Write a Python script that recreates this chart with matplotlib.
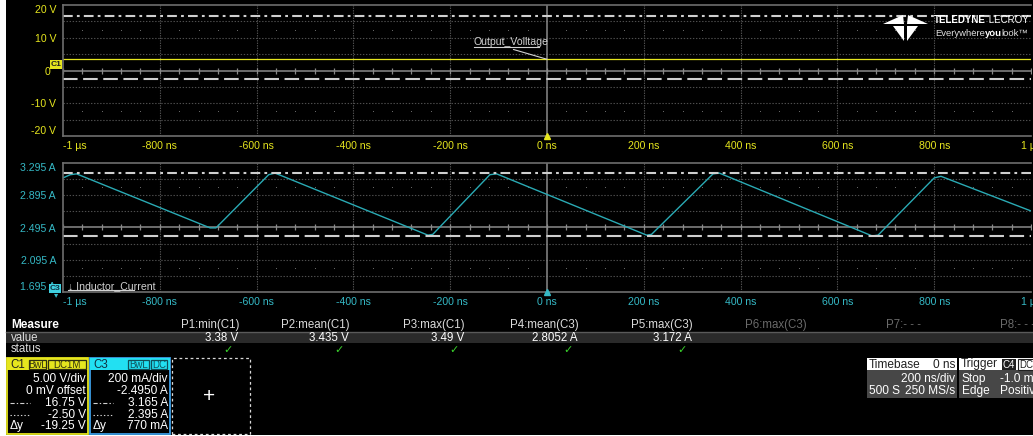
import numpy as np
import matplotlib.pyplot as plt
from matplotlib.patches import Rectangle, Polygon
from matplotlib.lines import Line2D

plt.rcParams['font.family'] = ['Liberation Sans', 'DejaVu Sans']
plt.rcParams['lines.scale_dashes'] = False

# 시간축 (ns)
time_ticks = [-1000, -800, -600, -400, -200, 0, 200, 400, 600, 800, 1000]
time_labels = ['-1 µs', '-800 ns', '-600 ns', '-400 ns', '-200 ns', '0 ns',
               '200 ns', '400 ns', '600 ns', '800 ns', '1 µs']

# C1 출력 전압 (V)
volt_ticks = [20, 10, 0, -10, -20]
volt_labels = ['20 V', '10 V', '', '-10 V', '-20 V']
volt_t = [-1000, 1000]
volt_v = [3.435, 3.435]
volt_cursors = [16.75, -2.50]

# C3 인덕터 전류 (A)
amp_ticks = [3.295, 2.895, 2.495, 2.095, 1.695]
amp_labels = ['3.295 A', '2.895 A', '2.495 A', '2.095 A', '1.695 A']
cur_t = [-1000, -985, -972, -696, -684, -575, -562, -246, -236, -118, -104,
         206, 216, 343, 356, 672, 684, 800, 814, 1000]
cur_a = [3.11, 3.15, 3.16, 2.49, 2.49, 3.15, 3.17, 2.40, 2.41, 3.15, 3.16,
         2.40, 2.41, 3.16, 3.17, 2.39, 2.40, 3.11, 3.13, 2.70]
amp_cursors = [3.165, 2.395]

# 측정 테이블
meas_names = ['P1:min(C1)', 'P2:mean(C1)', 'P3:max(C1)', 'P4:mean(C3)',
              'P5:max(C3)', 'P6:max(C3)', 'P7:- - -', 'P8:- - -']
meas_values = ['3.38 V', '3.435 V', '3.49 V', '2.8052 A', '3.172 A', '', '', '']
meas_ok = [True, True, True, True, True, False, False, False]

c1_rows = ['5.00 V/div', '0 mV offset', '16.75 V', '-2.50 V', '-19.25 V']
c3_rows = ['200 mA/div', '-2.4950 A', '3.165 A', '2.395 A', '770 mA']

YEL = '#e6e61e'
CYN = '#35b9c6'
TRACE_C = '#2aaab4'
GRID = '#4e4e4e'
CUR_C = '#cfcfcf'
DASHDOT = (0, (7, 3, 2, 3))
DASHED = (0, (10.5, 4))

W, H = 1033, 436
fig = plt.figure(figsize=(W / 100, H / 100), dpi=100, facecolor='black')


def fx(x):
    return x / W


def fy(y):
    return 1 - y / H


def T(x, y, s, **kw):
    kw.setdefault('va', 'center')
    kw.setdefault('fontsize', 8.3)
    kw.setdefault('color', 'white')
    return fig.text(fx(x), fy(y), s, **kw)


def box(x1, y1, x2, y2, **kw):
    r = Rectangle((fx(x1), fy(y2)), (x2 - x1) / W, (y2 - y1) / H,
                  transform=fig.transFigure, **kw)
    fig.add_artist(r)
    return r


def hline(x1, x2, y, **kw):
    fig.add_artist(Line2D([fx(x1), fx(x2)], [fy(y), fy(y)],
                          transform=fig.transFigure, **kw))


def chain(x, y, parts):
    # 글자 폭을 재서 이어 붙이기
    r = fig.canvas.get_renderer()
    for s, kw in parts:
        t = T(x, y, s, **kw)
        x += t.get_window_extent(r).width


def scope_axes(rect, ylo, yhi, color):
    ax = fig.add_axes(rect)
    ax.set_facecolor('black')
    ax.set_xlim(-1000, 1000)
    ax.set_ylim(ylo, yhi)
    div = (yhi - ylo) / 8
    mid = (yhi + ylo) / 2
    for k in range(1, 8):
        if k != 4:
            ax.axhline(ylo + k * div, color=GRID, lw=0.8, ls=(0, (1, 1.2)))
    for t in time_ticks[1:-1]:
        if t != 0:
            ax.axvline(t, color=GRID, lw=0.8, ls=(0, (1, 0.8)))
    ax.axhline(mid, color='#8a8a8a', lw=1.1)
    ax.axvline(0, color='#8a8a8a', lw=1.1)
    minor = np.arange(-1000, 1001, 40)
    ax.plot(minor, np.full(len(minor), mid), ls='none', marker='|',
            ms=4, mew=0.9, color='#8a8a8a')
    dots = [t for t in minor if t % 200 != 0]
    for off in (2.5, -2.5):
        ax.plot(dots, np.full(len(dots), mid + off * div), ls='none',
                marker='s', ms=0.7, mew=0, color='#666666')
    for s in ax.spines.values():
        s.set_color('#6e6e6e')
        s.set_linewidth(1.2)
    ax.spines['right'].set_visible(False)
    ax.set_xticks(time_ticks, time_labels)
    ax.tick_params(length=0, labelsize=7.6, colors=color, pad=3.5)
    xl = ax.get_xticklabels()
    xl[0].set_ha('left')
    ax.plot([0], [ylo], ls='none', marker='^', ms=5, color=color, clip_on=False,
            zorder=5)
    return ax, mid


# 위쪽: 출력 전압
ax1, m1 = scope_axes([fx(63), fy(136), 968 / W, 131 / H], -20, 20, YEL)
ax1.set_yticks(volt_ticks, volt_labels)
ax1.tick_params(axis='y', pad=5)
yl = ax1.get_yticklabels()
yl[0].set_va('top')
yl[-1].set_va('bottom')
ax1.plot(volt_t, volt_v, color=YEL, lw=0.9)
ax1.axhline(volt_cursors[0], color=CUR_C, lw=1.5, ls=DASHDOT)
ax1.axhline(volt_cursors[1], color=CUR_C, lw=1.5, ls=DASHED)
ax1.annotate('Output_Volltage', xy=(0, volt_v[0]), xytext=(-151, 8.8),
             color='#d2d2d2', fontsize=7.6, va='center', ha='left',
             arrowprops=dict(arrowstyle='-', color='#d2d2d2', lw=0.8,
                             shrinkA=0, shrinkB=0, relpos=(0.4, 0)))
ax1.plot([-151, -17], [7.3, 7.3], color='#d2d2d2', lw=0.8)
T(50, 72, '0', color=YEL, fontsize=7.6, ha='right')
T(56, 65, 'C1', color='#202020', fontsize=6, ha='center', fontweight='bold',
  bbox=dict(boxstyle='square,pad=0.12', fc=YEL, ec='none'))

# 아래쪽: 인덕터 전류
ax2, m2 = scope_axes([fx(63), fy(292), 968 / W, 129 / H], 1.695, 3.295, CYN)
ax2.set_yticks(amp_ticks, amp_labels)
ax2.tick_params(axis='y', pad=5)
yl = ax2.get_yticklabels()
yl[0].set_va('top')
yl[-1].set_va('bottom')
ax2.plot(cur_t, cur_a, color=TRACE_C, lw=1.0)
ax2.axhline(amp_cursors[0], color=CUR_C, lw=1.5, ls=DASHDOT)
ax2.axhline(amp_cursors[1], color=CUR_C, lw=1.5, ls=DASHED)
ax2.text(-990, 1.769, '↓ Inductor_Current', color='#d2d2d2', fontsize=7.6,
         va='center', ha='left')
ax2.plot([-990, -853], [1.72, 1.72], color='#d2d2d2', lw=0.8)
T(55, 288, 'C3', color='#103040', fontsize=6, ha='center', fontweight='bold',
  bbox=dict(boxstyle='square,pad=0.12', fc='#3fd0e0', ec='none'))
T(56, 296, '▾', color=CYN, fontsize=6, ha='center')

# 로고
for pts in ([(883, 24), (903, 15), (904, 24)],
            [(928, 24), (908, 15), (907, 24)],
            [(893, 26), (904, 26), (904, 41)],
            [(918, 26), (907, 26), (907, 41)]):
    fig.add_artist(Polygon([(fx(x), fy(y)) for x, y in pts], closed=True,
                           transform=fig.transFigure, fc='white', ec='none'))
chain(934, 20, [('TELEDYNE', dict(fontsize=7.0, fontweight='bold')),
                (' LECROY', dict(fontsize=7.0))])
chain(935, 33, [('Everywhere', dict(fontsize=6.8, color='#e0e0e0')),
                ('you', dict(fontsize=6.8, fontweight='bold')),
                ('look™', dict(fontsize=6.8, color='#e0e0e0'))])

# 측정 테이블
right_edges = [239, 350, 465, 579, 693, 807, 921, 1035]
T(11, 325, 'Measure', fontweight='bold', fontsize=8.5)
box(6, 332, W, 343, fc='#2a2a2a', ec='none')
hline(6, W, 331.5, color='#5a5a5a', lw=1)
T(11, 337.5, 'value', color='#dedede')
T(11, 349, 'status', color='#dedede')
for name, val, ok, r in zip(meas_names, meas_values, meas_ok, right_edges):
    T(r, 325, name, ha='right', color='#dcdcdc' if ok else '#6a6a6a')
    if val:
        T(r - 1, 337.5, val, ha='right')
    if ok:
        T(r - 6, 350, '✓', ha='right', color='#39d12c', fontsize=8,
          fontweight='bold')

# 채널 박스 C1
box(7, 358, 88, 434, fc='black', ec=YEL, lw=1.3)
box(7, 358, 88, 370, fc=YEL, ec='none')
T(10, 364.5, 'C1', color='#202020', fontsize=8.3)
for lab, x1, x2 in (('BwL', 29, 46), ('DC1M', 48, 86)):
    box(x1, 359.5, x2, 369, fc='none', ec='#303010', lw=0.9)
    T((x1 + x2) / 2, 364.5, lab, color='#303010', fontsize=7, ha='center')
# 채널 박스 C3
box(90, 358, 170, 434, fc='black', ec='#3c9ee6', lw=1.3)
box(90, 358, 170, 370, fc='#22e0f2', ec='none')
T(93, 364.5, 'C3', color='#103040', fontsize=8.3)
for lab, x1, x2 in (('BwL', 128, 149), ('DC', 151, 167)):
    box(x1, 359.5, x2, 369, fc='none', ec='#10505a', lw=0.9)
    T((x1 + x2) / 2, 364.5, lab, color='#10505a', fontsize=7, ha='center')

row_y = [379, 391, 403, 414.5, 426]
for i, y in enumerate(row_y):
    T(86, y, c1_rows[i], ha='right', fontsize=8.6)
    T(168, y, c3_rows[i], ha='right', fontsize=8.6)
for x0 in (10, 93):
    fig.add_artist(Line2D([fx(x0), fx(x0 + 20)], [fy(403), fy(403)],
                          transform=fig.transFigure, color='#d0d0d0', lw=0.8,
                          ls=(0, (3, 1.5, 1, 1.5))))
    fig.add_artist(Line2D([fx(x0), fx(x0 + 20)], [fy(414.5), fy(414.5)],
                          transform=fig.transFigure, color='#d0d0d0', lw=0.8,
                          ls=(0, (1, 1.5))))
    T(x0, 426, 'Δy', fontsize=8.6)

# 빈 박스
box(172, 358, 250, 434, fc='none', ec='#d8d8d8', lw=0.9, ls=(0, (2, 2)))
T(209, 396, '+', ha='center', fontsize=15)

# 타임베이스 / 트리거
box(867, 358, 957, 370, fc='white', ec='none')
box(867, 370, 957, 398, fc='#474747', ec='none')
T(869, 364.5, 'Timebase', color='#202020', fontsize=8.6)
T(955, 364.5, '0 ns', color='#202020', ha='right', fontsize=8.6)
T(955, 379, '200 ns/div', ha='right', fontsize=8.6)
T(869, 391, '500 S', fontsize=8.6)
T(955, 391, '250 MS/s', ha='right', fontsize=8.6)
box(959, 358, W, 370, fc='white', ec='none')
box(959, 370, W, 398, fc='#474747', ec='none')
T(961, 364.5, 'Trigger', color='#202020', fontsize=8.6)
T(1009, 364.5, 'C4', color='white', fontsize=7, ha='center',
  bbox=dict(boxstyle='square,pad=0.1', fc='#202020', ec='none'))
T(1019, 364.5, 'DC', color='#202020', fontsize=7, ha='left',
  bbox=dict(boxstyle='square,pad=0.1', fc='white', ec='#202020', lw=0.8))
T(962, 379, 'Stop', fontsize=8.6)
T(1000, 379, '-1.0 mV', fontsize=8.6)
T(962, 391, 'Edge', fontsize=8.6)
T(1000, 391, 'Positive', fontsize=8.6)

# 가장자리
box(0, 0, 6, H, fc='white', ec='none')
box(0, 434.5, W, H, fc='white', ec='none')

fig.savefig('out.png', dpi=100, facecolor='black')
